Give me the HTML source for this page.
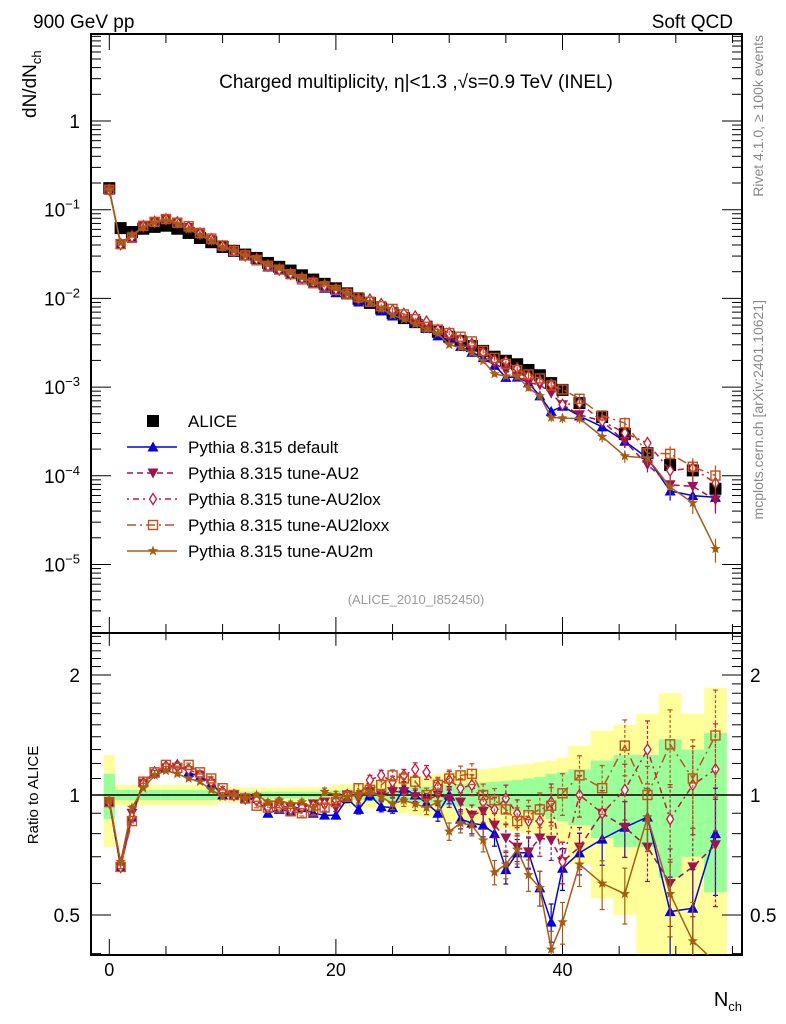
<!DOCTYPE html>
<html><head><meta charset="utf-8"><style>
html,body{margin:0;padding:0;background:#fff;overflow:hidden;width:786px;height:1024px}
svg{display:block}
text{font-family:"Liberation Sans",sans-serif}
</style></head><body>
<svg id="chart" width="786" height="1024" viewBox="0 0 786 1024">
<defs>
<clipPath id="cm"><rect x="91" y="34" width="651" height="599"/></clipPath>
<clipPath id="cr"><rect x="91" y="633" width="651" height="322"/></clipPath>
</defs>
<g id="bands" clip-path="url(#cr)"></g>
<g id="grid"></g>
<g id="mainMarks" clip-path="url(#cm)"></g>
<g id="ratioMarks" clip-path="url(#cr)"></g>
<text x="33" y="28" font-size="19">900 GeV pp</text>
<text x="733" y="28" font-size="19" text-anchor="end">Soft QCD</text>
<text x="416" y="88" font-size="19" text-anchor="middle">Charged multiplicity, η|&lt;1.3 ,√s=0.9 TeV (INEL)</text>
<text transform="translate(36,118) rotate(-90)" font-size="19">dN/dN<tspan font-size="13" dy="5">ch</tspan></text>
<text transform="translate(38,795) rotate(-90)" font-size="15" text-anchor="middle">Ratio to ALICE</text>
<text x="742" y="1006" font-size="20" text-anchor="end">N<tspan font-size="13" dy="5">ch</tspan></text>
<text transform="translate(763,35) rotate(-90)" font-size="14" fill="#888" text-anchor="end">Rivet 4.1.0, ≥ 100k events</text>
<text transform="translate(763,300) rotate(-90)" font-size="14" fill="#888" text-anchor="end">mcplots.cern.ch [arXiv:2401.10621]</text>
<text x="416" y="604" font-size="13" fill="#999" text-anchor="middle">(ALICE_2010_I852450)</text>
<g id="legend"></g>
</svg>
<script>
const nch = [0,1,2,3,4,5,6,7,8,9,10,11,12,13,14,15,16,17,18,19,20,21,22,23,24,25,26,27,28,29,30,31,32,33,34,35,36,37,38,39,40,41.5,43.5,45.5,47.5,49.5,51.5,53.5];
const binLo = [-0.5,0.5,1.5,2.5,3.5,4.5,5.5,6.5,7.5,8.5,9.5,10.5,11.5,12.5,13.5,14.5,15.5,16.5,17.5,18.5,19.5,20.5,21.5,22.5,23.5,24.5,25.5,26.5,27.5,28.5,29.5,30.5,31.5,32.5,33.5,34.5,35.5,36.5,37.5,38.5,39.5,40.5,42.5,44.5,46.5,48.5,50.5,52.5];
const binHi = [0.5,1.5,2.5,3.5,4.5,5.5,6.5,7.5,8.5,9.5,10.5,11.5,12.5,13.5,14.5,15.5,16.5,17.5,18.5,19.5,20.5,21.5,22.5,23.5,24.5,25.5,26.5,27.5,28.5,29.5,30.5,31.5,32.5,33.5,34.5,35.5,36.5,37.5,38.5,39.5,40.5,42.5,44.5,46.5,48.5,50.5,52.5,54.5];
const alice = [0.175,0.062,0.056,0.061,0.064,0.066,0.061,0.0547,0.048,0.043,0.038,0.0344,0.0312,0.0286,0.0251,0.0227,0.0206,0.0182,0.0163,0.0146,0.0130,0.0114,0.0099,0.0089,0.0077,0.0068,0.0060,0.0054,0.0048,0.0042,0.0037,0.0033,0.0029,0.00256,0.0022,0.00198,0.00181,0.00156,0.00136,0.00111,0.00093,0.00066,0.00046,0.000295,0.00018,0.000132,0.000115,0.0000714];
const errTotal = [0.26,0.06,0.06,0.06,0.06,0.06,0.06,0.06,0.06,0.06,0.045,0.045,0.045,0.045,0.045,0.045,0.045,0.045,0.045,0.045,0.06,0.065,0.07,0.075,0.08,0.09,0.1,0.11,0.12,0.13,0.14,0.15,0.155,0.16,0.17,0.18,0.19,0.2,0.21,0.22,0.24,0.33,0.45,0.5,0.6,0.8,0.6,0.86];
const errStat = [0.13,0.03,0.03,0.03,0.03,0.03,0.03,0.03,0.03,0.03,0.02,0.02,0.02,0.02,0.02,0.02,0.02,0.02,0.02,0.02,0.025,0.03,0.03,0.035,0.035,0.04,0.04,0.045,0.05,0.055,0.06,0.065,0.07,0.075,0.08,0.085,0.09,0.1,0.11,0.13,0.14,0.16,0.22,0.26,0.26,0.38,0.3,0.43];
const mcErr = [0.01,0.01,0.01,0.01,0.01,0.01,0.01,0.01,0.01,0.01,0.01,0.01,0.012,0.012,0.014,0.014,0.016,0.016,0.018,0.02,0.022,0.024,0.026,0.028,0.03,0.032,0.035,0.038,0.04,0.045,0.05,0.055,0.06,0.065,0.07,0.08,0.08,0.09,0.1,0.11,0.12,0.12,0.14,0.16,0.18,0.22,0.25,0.3];
const rDefault = [0.96,0.66,0.88,1.08,1.135,1.17,1.195,1.14,1.11,1.07,1.0,1.0,0.98,0.98,0.90,0.92,0.91,0.93,0.90,0.89,0.89,0.98,0.92,1.0,0.935,0.93,1.04,1.0,0.955,0.90,1.0,0.87,0.85,0.84,0.80,0.65,0.716,0.716,0.585,0.48,0.655,0.716,0.775,0.83,0.88,0.51,0.52,0.80];
const rAU2 = [0.96,0.66,0.9,1.07,1.13,1.17,1.17,1.15,1.12,1.07,1.0,1.0,0.98,0.97,0.93,0.94,0.93,0.93,0.95,0.96,0.93,1.0,0.98,1.02,1.0,1.02,1.02,0.99,0.97,1.0,0.98,0.96,0.89,0.91,0.84,0.78,0.74,0.72,0.78,0.77,0.68,0.74,0.9,0.83,0.74,0.6,0.66,0.75];
const rAU2lox = [0.96,0.66,0.88,1.07,1.14,1.18,1.18,1.16,1.12,1.08,1.02,1.0,0.98,0.97,0.93,0.93,0.92,0.93,0.94,0.95,0.97,1.0,1.0,1.09,1.12,1.08,1.12,1.16,1.14,1.05,1.09,1.04,1.06,0.96,0.92,0.98,0.9,0.86,0.86,0.96,0.68,1.0,0.9,1.03,1.3,0.87,1.06,1.16];
const rAU2loxx = [0.96,0.66,0.86,1.08,1.14,1.19,1.17,1.19,1.14,1.1,1.04,1.0,0.98,0.94,0.93,0.93,0.91,0.90,0.91,0.93,0.96,0.99,1.04,1.03,1.06,1.12,1.1,1.08,1.0,1.06,1.1,1.12,1.13,1.0,0.97,0.92,0.86,0.89,0.92,0.94,1.01,1.12,1.04,1.33,1.0,1.34,1.1,1.41];
const rAU2m = [0.97,0.68,0.93,1.04,1.12,1.15,1.13,1.1,1.08,1.03,0.99,1.0,0.98,1.0,0.96,0.97,0.95,0.96,0.93,1.02,1.0,0.99,1.0,1.02,0.99,0.95,0.97,0.95,0.93,0.96,0.81,0.85,0.84,0.77,0.64,0.67,0.73,0.63,0.585,0.41,0.48,0.67,0.6,0.565,0.88,0.565,0.43,0.21];
const mainTicks = ["1","10","10","10","10","10"];
const mainTickExp = ["","−1","−2","−3","−4","−5"];
const ratioTicks = [0.5,1,2];
const xTicks = [0,20,40];

const NS = "http://www.w3.org/2000/svg";
const X0 = 109.3, XS = 11.33;
function clamp(v,a,b){ return Math.max(a,Math.min(b,v)); }
function xS(n){ return X0 + XS*n; }
function yM(v){ return clamp(121 - 88.7*Math.log10(v), 20, 640); }
function yR(r){ return clamp(795 - 120*Math.log2(r), 625, 962); }
function mk(tag, attrs, parent){ const e=document.createElementNS(NS,tag); for(const k in attrs) e.setAttribute(k,attrs[k]); parent.appendChild(e); return e; }

const bands = document.getElementById('bands');
for(let i=0;i<nch.length;i++){
  const x1=xS(binLo[i]), x2=xS(binHi[i]);
  const ty=yR(1+errTotal[i]), by=yR(Math.max(1-errTotal[i],0.05));
  const r1=mk('rect',{x:x1,y:ty,width:x2-x1,height:by-ty,fill:'#ffff99'},bands);
  
  
}
for(let i=0;i<nch.length;i++){
  const x1=xS(binLo[i]), x2=xS(binHi[i]);
  const ty=yR(1+errStat[i]), by=yR(Math.max(1-errStat[i],0.05));
  const r2=mk('rect',{x:x1,y:ty,width:x2-x1,height:by-ty,fill:'#99ff99'},bands);
  
  
}

const g = document.getElementById('grid');
function line(x1,y1,x2,y2,w){ return mk('line',{x1,y1,x2,y2,stroke:'#000','stroke-width':w||1},g); }
mk('rect',{x:91,y:34,width:651,height:599,fill:'none',stroke:'#000','stroke-width':2},g);
mk('rect',{x:91,y:633,width:651,height:322,fill:'none',stroke:'#000','stroke-width':2},g);
line(91,795,742,795,1.5);
for(let n=0;n<=55;n+=5){
  const x=xS(n), L=(n%20===0)?16:9;
  line(x,34,x,34+L); line(x,633,x,633-L); line(x,633,x,633+L*0.8); line(x,955,x,955-L);
}
for(let i=0;i<xTicks.length;i++){
  const t=mk('text',{x:xS(xTicks[i]),y:976,'font-size':18,'text-anchor':'middle'},g);
  t.textContent=xTicks[i];
  
  
}
for(let d=-6;d<=0;d++){
  for(let m=1;m<=9;m++){
    const raw=121-88.7*Math.log10(m*Math.pow(10,d));
    if(raw<34||raw>633) continue;
    const L=(m===1)?20:10;
    line(91,raw,91+L,raw); line(742,raw,742-L,raw);
  }
}
for(let i=0;i<mainTicks.length;i++){
  const y=yM(Math.pow(10,-i));
  const t=mk('text',{x:80,y:y+7,'font-size':19,'text-anchor':'end'},g);
  t.textContent=mainTicks[i];
  if(mainTickExp[i]){ const s=mk('tspan',{dy:-8,'font-size':13},t); s.textContent=mainTickExp[i]; }
  
  
}
for(let v=0.4;v<=2.55;v+=0.1){
  const y=795-120*Math.log2(v); if(y<633||y>955) continue;
  const major=Math.abs(v-0.5)<0.01||Math.abs(v-1)<0.01||Math.abs(v-2)<0.01;
  const L=major?20:10;
  line(91,y,91+L,y); line(742,y,742-L,y);
}
for(let i=0;i<ratioTicks.length;i++){
  const y=yR(ratioTicks[i]);
  const t=mk('text',{x:80,y:y+7,'font-size':19,'text-anchor':'end'},g);
  t.textContent=ratioTicks[i];
  
  
  const t2=mk('text',{x:750,y:y+7,'font-size':19},g);
  t2.textContent=ratioTicks[i];
  
  
}

function marker(parent,type,x,y,c){
  let e;
  if(type==='sqfill') e=mk('rect',{x:x-6,y:y-6,width:12,height:12,fill:'#000'},parent);
  else if(type==='tri') e=mk('polygon',{points:`${x},${y-5.5} ${x-5.5},${y+4.5} ${x+5.5},${y+4.5}`,fill:c},parent);
  else if(type==='trid') e=mk('polygon',{points:`${x},${y+5.5} ${x-5.5},${y-4.5} ${x+5.5},${y-4.5}`,fill:c},parent);
  else if(type==='dia') e=mk('polygon',{points:`${x},${y-5.5} ${x-3.5},${y} ${x},${y+5.5} ${x+3.5},${y}`,fill:'#fff',stroke:c,'stroke-width':1.3},parent);
  else if(type==='sq') e=mk('rect',{x:x-4.5,y:y-4.5,width:9,height:9,fill:'none',stroke:c,'stroke-width':1.4},parent);
  else if(type==='star'){ let p=[]; for(let k=0;k<10;k++){const a=-Math.PI/2+k*Math.PI/5, r=k%2?2.3:5.5; p.push((x+r*Math.cos(a)).toFixed(1)+','+(y+r*Math.sin(a)).toFixed(1));} e=mk('polygon',{points:p.join(' '),fill:c},parent); }
  return e;
}
const series = [
 {name:'pythia-default',r:rDefault,c:'#0000ee',m:'tri',dash:''},
 {name:'pythia-au2',r:rAU2,c:'#a0124e',m:'trid',dash:'6,4'},
 {name:'pythia-au2lox',r:rAU2lox,c:'#c8183c',m:'dia',dash:'2,4,6,4'},
 {name:'pythia-au2loxx',r:rAU2loxx,c:'#c4501a',m:'sq',dash:'9,4,2,4'},
 {name:'pythia-au2m',r:rAU2m,c:'#a85c10',m:'star',dash:''}
];
const mg=document.getElementById('mainMarks'), rg=document.getElementById('ratioMarks');
for(let i=0;i<nch.length;i++){
  const e=marker(mg,'sqfill',xS(nch[i]),yM(alice[i]));
  
  
}
series.forEach(s=>{
  const pm=[], pr=[];
  for(let i=0;i<nch.length;i++){ pm.push(xS(nch[i]).toFixed(1)+','+yM(alice[i]*s.r[i]).toFixed(1)); pr.push(xS(nch[i]).toFixed(1)+','+yR(s.r[i]).toFixed(1)); }
  const l1=mk('polyline',{points:pm.join(' '),fill:'none',stroke:s.c,'stroke-width':1.5,'stroke-dasharray':s.dash},mg);
  
  
  const l2=mk('polyline',{points:pr.join(' '),fill:'none',stroke:s.c,'stroke-width':1.5,'stroke-dasharray':s.dash},rg);
  
  
  for(let i=0;i<nch.length;i++){
    const x=xS(nch[i]), v=alice[i]*s.r[i], e=mcErr[i];
    const ya=yM(v*(1+e)), yb=yM(v*Math.max(1-e,0.05));
    mk('line',{x1:x,y1:ya,x2:x,y2:yb,stroke:s.c,'stroke-width':1.2},mg);
    const ra=yR(s.r[i]*(1+e)), rb=yR(s.r[i]*Math.max(1-e,0.05));
    mk('line',{x1:x,y1:ra,x2:x,y2:rb,stroke:s.c,'stroke-width':1.2,'stroke-dasharray':s.dash?'3,2':''},rg);
    mk('line',{x1:x-2.5,y1:ra,x2:x+2.5,y2:ra,stroke:s.c,'stroke-width':1.2},rg);
    mk('line',{x1:x-2.5,y1:rb,x2:x+2.5,y2:rb,stroke:s.c,'stroke-width':1.2},rg);
    const p=marker(mg,s.m,x,yM(v),s.c);
    
    
    const q=marker(rg,s.m,x,yR(s.r[i]),s.c);
    
    
  }
});
const lg=document.getElementById('legend');
const labels=['ALICE','Pythia 8.315 default','Pythia 8.315 tune-AU2','Pythia 8.315 tune-AU2lox','Pythia 8.315 tune-AU2loxx','Pythia 8.315 tune-AU2m'];
for(let k=0;k<6;k++){
  const y=421+26*k;
  if(k===0){ const e=marker(lg,'sqfill',153,y);   }
  else{
    const s=series[k-1];
    mk('line',{x1:127,y1:y,x2:177,y2:y,stroke:s.c,'stroke-width':1.5,'stroke-dasharray':s.dash},lg);
    const e=marker(lg,s.m,153,y,s.c);
    
    
  }
  const t=mk('text',{x:188,y:y+6,'font-size':17},lg);
  t.textContent=labels[k];
  
  
}
</script>
</body></html>
